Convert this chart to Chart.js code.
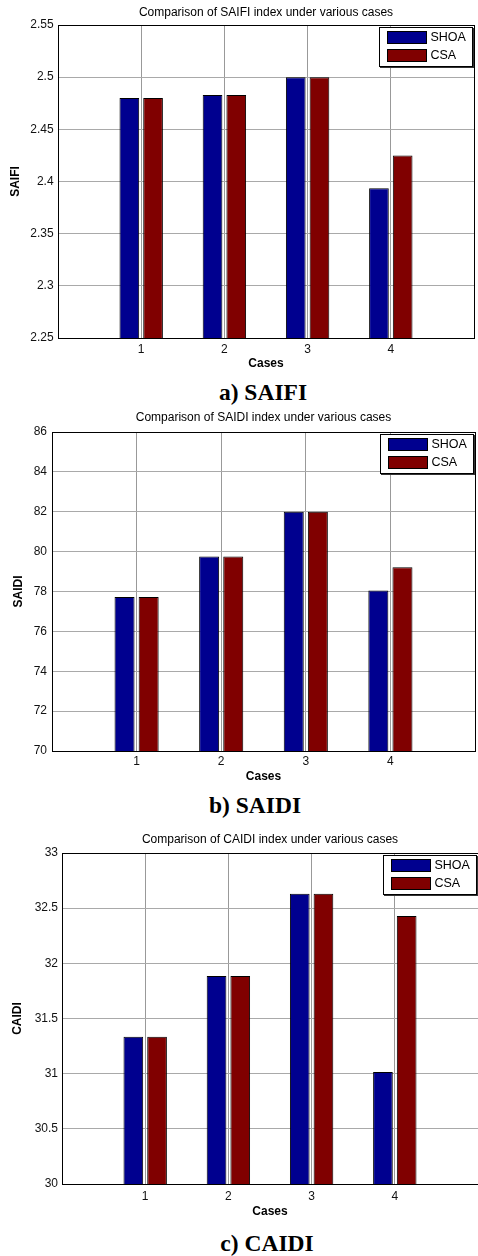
<!DOCTYPE html>
<html>
<head>
<meta charset="utf-8">
<script src="https://cdn.jsdelivr.net/npm/chart.js@4.4.1/dist/chart.umd.min.js"></script>
<style>
    html, body { margin: 0; padding: 0; background: #fff; }
    body { position: relative; width: 478px; height: 1256px; overflow: hidden; }
    .panel { position: absolute; left: 0; }
    .panel canvas { display: block; }
    .legend {
        position: absolute;
        width: 92px; height: 38px;
        border: 1px solid #000;
        box-shadow: 1px 1px 0 #333;
        background: #fff;
        font-family: "Liberation Sans", Arial, sans-serif;
        font-size: 12.5px;
        color: #000;
    }
    .legend .row { position: absolute; left: 7px; height: 13px; display: flex; align-items: center; }
    .legend .sw { width: 38px; height: 11px; border: 1px solid #000; }
    .legend .lbl { margin-left: 4px; line-height: 13px; }
    .caption {
        position: absolute; width: 200px; text-align: center;
        font-family: "Liberation Serif", "Times New Roman", serif;
        font-weight: bold; font-size: 23.5px; line-height: 24px; color: #000;
    }
</style>
</head>
<body>

<div class="panel" style="top:0px">
    <canvas id="saifiChart" width="478" height="372"></canvas>
    <div class="legend" id="saifiLegend"></div>
</div>
<div class="caption" style="top:380px; left:163px">a) SAIFI</div>

<div class="panel" style="top:405px">
    <canvas id="saidiChart" width="478" height="380"></canvas>
    <div class="legend" id="saidiLegend"></div>
</div>
<div class="caption" style="top:793px; left:155px">b) SAIDI</div>

<div class="panel" style="top:826px">
    <canvas id="caidiChart" width="483" height="394"></canvas>
    <div class="legend" id="caidiLegend"></div>
</div>
<div class="caption" style="top:1231px; left:167px">c) CAIDI</div>

<script>
// ============================================
// DATA
// ============================================
const cases = ['1', '2', '3', '4'];
const seriesNames = ['SHOA', 'CSA'];
const seriesColors = ['#00008F', '#800000'];

const saifiShoa = [2.480, 2.483, 2.500, 2.3935];
const saifiCsa  = [2.480, 2.483, 2.500, 2.425];
const saifiTicks = [2.25, 2.3, 2.35, 2.4, 2.45, 2.5, 2.55];

const saidiShoa = [77.72, 79.75, 82.0, 78.05];
const saidiCsa  = [77.72, 79.75, 82.0, 79.22];
const saidiTicks = [70, 72, 74, 76, 78, 80, 82, 84, 86];

const caidiShoa = [31.335, 31.885, 32.63, 31.015];
const caidiCsa  = [31.335, 31.885, 32.63, 32.43];
const caidiTicks = [30, 30.5, 31, 31.5, 32, 32.5, 33];

// ============================================
// CHART HELPERS
// ============================================
Chart.defaults.font.family = '"Liberation Sans", Arial, sans-serif';
Chart.defaults.color = '#000';

const GRID_GRAY = '#a9a9a9';

function buildLegend(legendId) {
    const el = document.getElementById(legendId);
    el.innerHTML = seriesNames.map((name, i) =>
        '<div class="row" style="top:' + (3 + i * 18) + 'px">' +
        '<div class="sw" style="background:' + seriesColors[i] + '"></div>' +
        '<span class="lbl">' + name + '</span></div>'
    ).join('');
    return el;
}

function createCaseChart(canvasId, legendId, title, yLabel, ticks, shoa, csa, lay) {
    const ctx = document.getElementById(canvasId);
    if (!ctx) return;

    const legendEl = buildLegend(legendId);
    // empty slots at 0 and 5 so the axis runs from 0 to 5 like the original
    const labels = [''].concat(cases, ['']);
    const pad = arr => [null].concat(arr, [null]);
    const yMin = ticks[0];
    const yMax = ticks[ticks.length - 1];

    const placeLegend = {
        id: 'placeLegend',
        afterLayout(chart) {
            const a = chart.chartArea;
            legendEl.style.left = (a.right - 95.5) + 'px';
            legendEl.style.top = (a.top + 2) + 'px';
        }
    };

    new Chart(ctx, {
        type: 'bar',
        data: {
            labels: labels,
            datasets: [{
                label: seriesNames[0],
                data: pad(shoa),
                backgroundColor: seriesColors[0],
                borderColor: '#000',
                borderWidth: 1
            }, {
                label: seriesNames[1],
                data: pad(csa),
                backgroundColor: seriesColors[1],
                borderColor: '#000',
                borderWidth: 1
            }]
        },
        options: {
            responsive: false,
            animation: false,
            layout: { padding: { left: 0, right: lay.padRight, top: 0, bottom: 0 } },
            datasets: {
                bar: { categoryPercentage: 0.57, barPercentage: 0.83 }
            },
            plugins: {
                legend: { display: false },
                tooltip: { enabled: false },
                title: {
                    display: true,
                    text: title,
                    fullSize: false,
                    color: '#000',
                    font: { size: 12, weight: 'normal' },
                    padding: { top: lay.titleTop, bottom: lay.titleBottom }
                }
            },
            scales: {
                x: {
                    type: 'category',
                    offset: false,
                    grid: {
                        offset: false,
                        drawTicks: false,
                        color: c => (c.index === labels.length - 1 ? '#000' : '#999')
                    },
                    border: { display: true, color: '#000', width: 1 },
                    ticks: {
                        padding: lay.xTickPad,
                        font: { size: 12 },
                        color: '#111',
                        autoSkip: false,
                        maxRotation: 0
                    },
                    title: {
                        display: true,
                        text: 'Cases',
                        color: '#000',
                        font: { size: 12, weight: 'bold' },
                        padding: { top: 0, bottom: lay.xTitlePad }
                    },
                    afterFit: s => { s.height = lay.xHeight; }
                },
                y: {
                    min: yMin,
                    max: yMax,
                    afterBuildTicks: s => { s.ticks = ticks.map(v => ({ value: v })); },
                    grid: {
                        drawTicks: false,
                        color: c => (c.tick && (c.tick.value === yMax || c.tick.value === yMin) ? '#000' : GRID_GRAY)
                    },
                    border: { display: true, color: '#000', width: 1 },
                    ticks: {
                        padding: lay.yTickPad,
                        font: { size: 12 },
                        color: '#111',
                        callback: v => String(+Number(v).toFixed(2))
                    },
                    title: {
                        display: true,
                        text: yLabel,
                        color: '#000',
                        font: { size: 12, weight: 'bold' },
                        padding: { top: lay.yTitlePad, bottom: 0 }
                    },
                    afterFit: s => { s.width = lay.yWidth; }
                }
            }
        },
        plugins: [placeLegend]
    });
}

// ============================================
// CHARTS
// ============================================
createCaseChart('saifiChart', 'saifiLegend',
    'Comparison of SAIFI index under various cases', 'SAIFI',
    saifiTicks, saifiShoa, saifiCsa,
    { titleTop: 5, titleBottom: 5.6, yWidth: 58, xHeight: 34, padRight: 0,
      xTickPad: 4, xTitlePad: 0.8, yTickPad: 4.4, yTitlePad: 8.4 });

createCaseChart('saidiChart', 'saidiLegend',
    'Comparison of SAIDI index under various cases', 'SAIDI',
    saidiTicks, saidiShoa, saidiCsa,
    { titleTop: 5.8, titleBottom: 6.8, yWidth: 52, xHeight: 34, padRight: 1,
      xTickPad: 3, xTitlePad: 0.8, yTickPad: 5, yTitlePad: 11 });

createCaseChart('caidiChart', 'caidiLegend',
    'Comparison of CAIDI index under various cases', 'CAIDI',
    caidiTicks, caidiShoa, caidiCsa,
    { titleTop: 6.8, titleBottom: 5.8, yWidth: 62, xHeight: 36, padRight: 0,
      xTickPad: 5, xTitlePad: 1.1, yTickPad: 4, yTitlePad: 10 });
</script>
</body>
</html>
